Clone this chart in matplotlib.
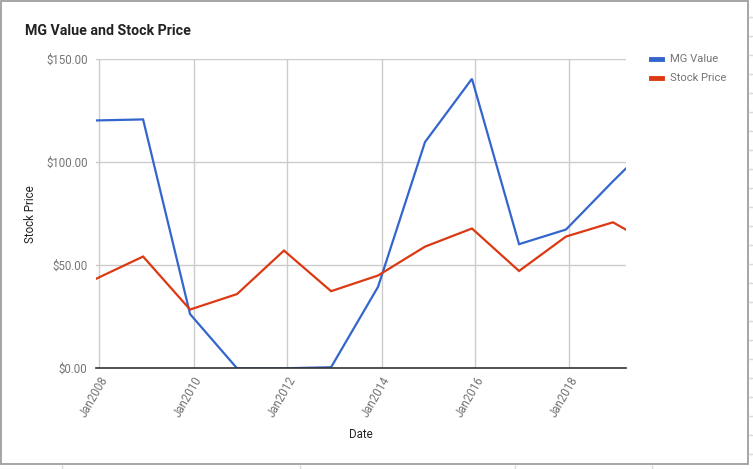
import matplotlib
matplotlib.use("Agg")
import matplotlib.pyplot as plt
from matplotlib.lines import Line2D
from matplotlib.patches import Rectangle
import pandas as pd

plt.rcParams['font.family'] = ['Roboto', 'DejaVu Sans']

# ---- data ----
dates = ["2007-12-05", "2008-12-05", "2009-12-05", "2010-12-05", "2011-12-05",
         "2012-12-05", "2013-12-05", "2014-12-05", "2015-12-05", "2016-12-05",
         "2017-12-05", "2018-12-05", "2019-03-14"]
mg_value = [120.2, 120.7, 26.3, 0.0, 0.0, 0.5, 39.5, 109.7, 140.4, 60.2, 67.3, 90.7, 96.8]
stock_price = [43.4, 54.2, 28.5, 36.0, 57.1, 37.4, 45.0, 59.0, 67.8, 47.2, 63.9, 70.8, 67.3]
y_ticks = [0, 50, 100, 150]
x_tick_years = [2008, 2010, 2012, 2014, 2016, 2018]
title = "MG Value and Stock Price"
series_names = ["MG Value", "Stock Price"]
colors = ["#3366cc", "#dc3912"]

x = pd.to_datetime(dates)

W, H = 753, 469
fig = plt.figure(figsize=(W / 100, H / 100), dpi=100)

def px(xp, yp):
    return xp / W, 1 - yp / H

left, right, top, bottom = 96, 625.7, 59, 368.3
ax = fig.add_axes([left / W, 1 - bottom / H, (right - left) / W, (bottom - top) / H])

ax.plot(x, mg_value, color=colors[0], lw=1.6, solid_joinstyle='miter', zorder=3)
ax.plot(x, stock_price, color=colors[1], lw=1.6, solid_joinstyle='miter', zorder=3)

ax.set_xlim(x[0], x[-1])
ax.set_ylim(0, 150)
ax.set_yticks(y_ticks)
ax.set_yticklabels([f"${v:.2f}" for v in y_ticks])
xt = pd.to_datetime([f"{y}-01-01" for y in x_tick_years])
ax.set_xticks(xt)
ax.set_xticklabels([f"Jan{y}" for y in x_tick_years], rotation=60, ha='right',
                   va='top', rotation_mode='anchor')

for s in ax.spines.values():
    s.set_visible(False)
ax.grid(True, color="#cccccc", lw=1, zorder=0)
ax.axhline(0, color="#333333", lw=1.2, zorder=4, clip_on=False)
ax.tick_params(axis='both', length=0, colors="#757575", labelsize=8.3)
ax.tick_params(axis='y', pad=6)
ax.tick_params(axis='x', pad=4)

ax.set_xlabel("Date", fontsize=8.3, color="#222222")
ax.set_ylabel("Stock Price", fontsize=8.3, color="#222222")
ax.xaxis.set_label_coords(0.5, -(428 - bottom) / (bottom - top))
ax.yaxis.set_label_coords(-(96 - 37) / (right - left), 0.5)

fig.text(*px(25, 31), title, fontsize=10.2, fontweight='bold', color="#222222",
         ha='left', va='center')

# legend
for i, (name, c) in enumerate(zip(series_names, colors)):
    yy = 59 + i * 19
    fig.add_artist(Line2D([651 / W, 662 / W], [1 - yy / H] * 2, color=c, lw=3.5))
    fig.text(*px(670, yy), name, fontsize=8.1, color="#757575", ha='left', va='center')

# chart border and surrounding sheet lines
fig.add_artist(Rectangle(px(1, 463.5), 746.5 / W, 462.5 / H, fill=False,
                         edgecolor="#9e9e9e", lw=1.3, transform=fig.transFigure))
for yy in range(17, 469, 19):
    fig.add_artist(Line2D([749 / W, 753 / W], [1 - yy / H] * 2, color="#d9d9d9", lw=1))
for xx in [62, 300, 515, 652]:
    fig.add_artist(Line2D([xx / W] * 2, [1 - 464.5 / H, 0], color="#d9d9d9", lw=1))

fig.savefig("out.png", dpi=100)
